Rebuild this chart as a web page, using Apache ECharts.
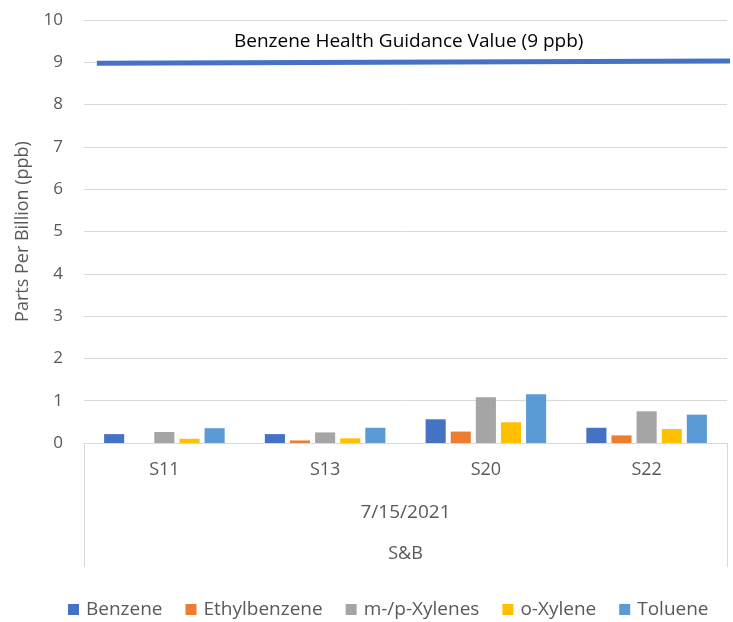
<!DOCTYPE html>
<html>
<head>
<meta charset="utf-8">
<script src="https://cdn.jsdelivr.net/npm/echarts@6/dist/echarts.min.js"></script>
<style>
  html, body { margin: 0; padding: 0; background: #fff; }
  #chart { width: 733px; height: 622px; }
</style>
</head>
<body>
<div id="chart"></div>
<script>
// sites on the first category level
var sites = ["S11", "S13", "S20", "S22"];
var dateLabel = ["7/15/2021"];
var groupLabel = ["S&B"];

// ppb per compound, one value per site
var benzene = [0.21, 0.21, 0.56, 0.36];
var ethylbenzene = [null, 0.06, 0.27, 0.18];
var mpXylenes = [0.26, 0.25, 1.08, 0.75];
var oXylene = [0.10, 0.11, 0.49, 0.33];
var toluene = [0.35, 0.36, 1.15, 0.67];

// guidance line (drawn a bit skewed in the original)
var guideX = [0.02, 1.01];
var guideY = [8.98, 9.03];

var font = "Open Sans";
var dom = document.getElementById("chart");
var myChart = echarts.init(dom, null, { renderer: "canvas" });

function barSeries(name, data, color) {
  return {
    name: name,
    type: "bar",
    xAxisIndex: 0,
    data: data,
    barGap: "25%",
    barCategoryGap: "25%",
    itemStyle: { color: color },
    animation: false
  };
}

var option = {
  backgroundColor: "#fff",
  textStyle: { fontFamily: font },
  title: {
    text: "Benzene Health Guidance Value (9 ppb)",
    left: 229,
    top: 27,
    textStyle: { fontFamily: font, fontSize: 19, fontWeight: "normal", color: "#000" }
  },
  grid: { left: 84, right: 6, top: 20, bottom: 179 },
  legend: {
    bottom: -2,
    left: 63,
    icon: "rect",
    itemWidth: 11,
    itemHeight: 11,
    itemGap: 23,
    textStyle: { fontFamily: font, fontSize: 19, color: "#595959", padding: [0, 0, 0, 2] },
    data: ["Benzene", "Ethylbenzene", "m-/p-Xylenes", "o-Xylene", "Toluene"]
  },
  xAxis: [
    {
      type: "category",
      data: sites,
      position: "bottom",
      axisLine: { lineStyle: { color: "#d9d9d9", width: 1 } },
      axisTick: { show: false },
      axisLabel: { margin: 18, fontSize: 18, color: "#595959", fontFamily: font }
    },
    {
      type: "category",
      data: dateLabel,
      position: "bottom",
      axisLine: { show: false },
      axisTick: { show: true, length: 124, lineStyle: { color: "#d9d9d9" } },
      axisLabel: { margin: 60, fontSize: 19, color: "#595959", fontFamily: font }
    },
    {
      type: "category",
      data: groupLabel,
      position: "bottom",
      axisLine: { show: false },
      axisTick: { show: false },
      axisLabel: { margin: 102, fontSize: 18, color: "#595959", fontFamily: font }
    },
    {
      type: "value",
      position: "top",
      min: 0,
      max: 1,
      show: false
    }
  ],
  yAxis: {
    type: "value",
    min: 0,
    max: 10,
    interval: 1,
    name: "Parts Per Billion (ppb)",
    nameLocation: "middle",
    nameGap: 52,
    nameTextStyle: { fontSize: 18, color: "#595959", fontFamily: font },
    axisLine: { show: false },
    axisTick: { show: false },
    axisLabel: { margin: 21, fontSize: 17, color: "#595959", fontFamily: font },
    splitLine: { lineStyle: { color: "#d9d9d9", width: 1 } }
  },
  series: [
    barSeries("Benzene", benzene, "#4472C4"),
    barSeries("Ethylbenzene", ethylbenzene, "#ED7D31"),
    barSeries("m-/p-Xylenes", mpXylenes, "#A5A5A5"),
    barSeries("o-Xylene", oXylene, "#FFC000"),
    barSeries("Toluene", toluene, "#5B9BD5"),
    {
      name: "Guidance",
      type: "line",
      xAxisIndex: 3,
      data: guideX.map(function (x, i) { return [x, guideY[i]]; }),
      symbol: "none",
      clip: false,
      lineStyle: { color: "#4472C4", width: 5 },
      animation: false
    }
  ]
};

myChart.setOption(option);
window.addEventListener("resize", myChart.resize);
</script>
</body>
</html>
